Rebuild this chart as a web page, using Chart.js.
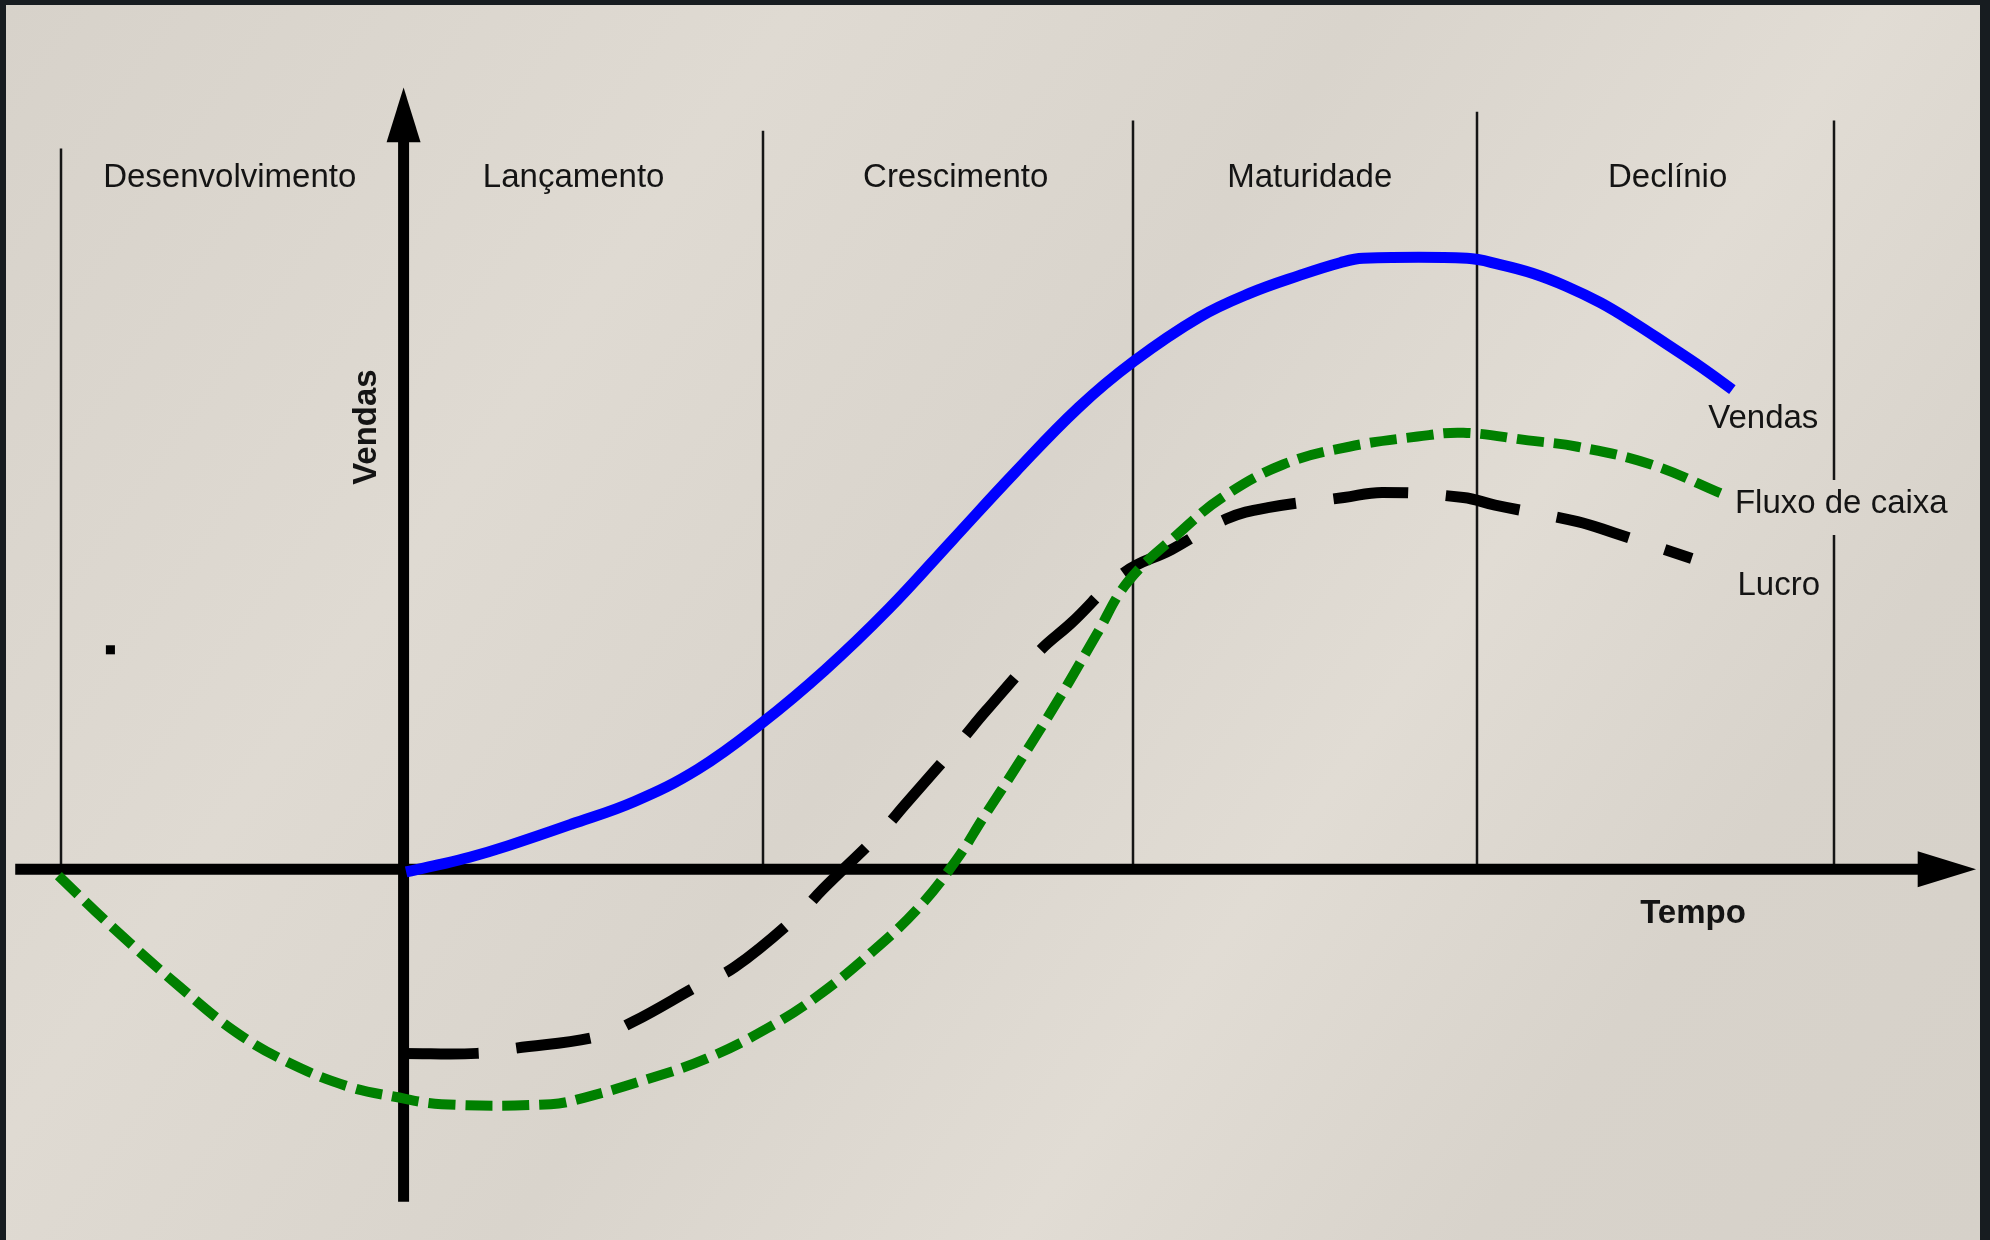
<!DOCTYPE html>
<html>
<head>
<meta charset="utf-8">
<title>Ciclo de vida do produto</title>
<script src="https://cdn.jsdelivr.net/npm/chart.js@4.4.1/dist/chart.umd.min.js"></script>
<style>
  html, body {
    margin: 0;
    padding: 0;
    width: 1990px;
    height: 1240px;
    overflow: hidden;
    background: #171c20;
  }
  #panel {
    position: absolute;
    left: 6px;
    top: 5px;
    width: 1974px;
    height: 1235px;
    background: linear-gradient(125deg, #d7d2ca 0%, #dfdad2 28%, #d9d4cc 48%, #e1dcd4 66%, #d8d3cb 82%, #d6d1c9 100%);
  }
  #wrap {
    position: absolute;
    left: 0;
    top: 0;
    width: 1990px;
    height: 1240px;
  }
</style>
</head>
<body>
<div id="panel"></div>
<div id="wrap"><canvas id="chart" width="1990" height="1240"></canvas></div>
<script>
// units: time runs from the vertical axis (0), value from the horizontal axis (0)
const vendasX = [0.2, 2.7, 5.2, 8.2, 13.2, 18.2, 23.2, 28.2, 33.2, 38.2, 43.2, 48.2, 53.2, 57.5, 62.7, 66.7, 70.6, 73.8, 75.6, 83.8, 86.4, 89.0, 91.6, 94.3, 96.9, 99.5, 102.2, 104.7];
const vendasY = [-0.2, 0.35, 0.95, 1.85, 3.55, 5.35, 7.9, 11.5, 15.7, 20.5, 25.9, 31.3, 36.4, 40.0, 43.5, 45.4, 46.8, 47.8, 48.15, 48.15, 47.65, 46.95, 45.95, 44.65, 43.1, 41.4, 39.6, 37.8];

const fluxoX = [-27.2, -23.0, -17.7, -13.1, -8.9, -4.4, -0.8, 3.0, 11.6, 14.2, 19.0, 23.9, 28.7, 32.6, 36.8, 40.6, 43.6, 45.7, 48.3, 51.8, 54.6, 57.1, 61.1, 64.5, 69.3, 74.5, 79.9, 83.5, 88.6, 92.5, 98.3, 104.1];
const fluxoY = [-0.5, -4.5, -9.2, -12.9, -15.3, -17.1, -17.9, -18.5, -18.5, -18.0, -16.6, -14.9, -12.5, -10.0, -6.6, -3.0, 0.8, 4.1, 8.1, 13.7, 18.5, 22.7, 26.5, 29.3, 31.9, 33.3, 34.1, 34.4, 33.8, 33.3, 31.9, 29.5];

const lucroX = [0, 5.8, 8.8, 15.2, 18.1, 23.5, 26.1, 31.1, 33.0, 37.5, 39.6, 43.8, 45.9, 50.1, 52.6, 56.8, 60.5, 64.8, 68.1, 74.1, 77.1, 83.5, 86.0, 92.5, 95.4, 101.5];
const lucroY = [-14.5, -14.5, -14.1, -13.2, -12.0, -9.0, -7.7, -3.6, -1.6, 2.8, 5.2, 10.0, 12.5, 17.2, 19.4, 23.4, 25.2, 27.6, 28.5, 29.3, 29.7, 29.3, 28.7, 27.4, 26.5, 24.5];

const phases = ["Desenvolvimento", "Lançamento", "Crescimento", "Maturidade", "Declínio"];
const phaseLabelX = [-13.7, 13.4, 43.5, 71.4, 99.6];
const phaseBounds = [-27.0, 28.3, 57.46, 84.6, 112.7];
const phaseTops = [56.8, 58.2, 59.0, 59.7, 59.0];

const seriesNames = ["Vendas", "Fluxo de caixa", "Lucro"];
const seriesLabelX = [102.8, 104.9, 105.1];
const seriesLabelY = [34.8, 28.1, 21.6];

const timeAxis = [-30.6, 119.3, 123.9];   // start, arrow base, arrow tip
const valueAxis = [-26.2, 57.3, 61.6];    // bottom, arrow base, arrow tip
const markX = [-23.1];
const markY = [17.3];

const toPoints = (xs, ys) => xs.map((x, i) => ({ x: x, y: ys[i] }));

const FONT = "'Liberation Sans', Arial, sans-serif";

const cycleDrawing = {
  id: "cycleDrawing",
  beforeDatasetsDraw(chart) {
    const { ctx } = chart;
    const x = chart.scales.x;
    const y = chart.scales.y;
    const y0 = y.getPixelForValue(0);
    const x0 = x.getPixelForValue(0);
    ctx.save();

    // phase separators
    ctx.strokeStyle = "#151515";
    ctx.lineWidth = 2.5;
    phaseBounds.forEach((b, i) => {
      const px = Math.round(x.getPixelForValue(b));
      ctx.beginPath();
      ctx.moveTo(px, y.getPixelForValue(phaseTops[i]));
      ctx.lineTo(px, y0);
      ctx.stroke();
    });

    // axes
    ctx.strokeStyle = "#000";
    ctx.fillStyle = "#000";
    ctx.lineWidth = 11;
    ctx.beginPath();
    ctx.moveTo(x.getPixelForValue(timeAxis[0]), y0);
    ctx.lineTo(x.getPixelForValue(timeAxis[1]) + 2, y0);
    ctx.stroke();
    ctx.beginPath();
    ctx.moveTo(x0, y.getPixelForValue(valueAxis[0]));
    ctx.lineTo(x0, y.getPixelForValue(valueAxis[1]) - 2);
    ctx.stroke();

    // arrow heads
    const xb = x.getPixelForValue(timeAxis[1]);
    const xt = x.getPixelForValue(timeAxis[2]);
    ctx.beginPath();
    ctx.moveTo(xt, y0);
    ctx.lineTo(xb, y0 - 18);
    ctx.lineTo(xb, y0 + 18);
    ctx.closePath();
    ctx.fill();
    const yb = y.getPixelForValue(valueAxis[1]);
    const yt = y.getPixelForValue(valueAxis[2]);
    ctx.beginPath();
    ctx.moveTo(x0, yt);
    ctx.lineTo(x0 - 17, yb);
    ctx.lineTo(x0 + 17, yb);
    ctx.closePath();
    ctx.fill();
    ctx.restore();
  },
  afterDatasetsDraw(chart) {
    const { ctx } = chart;
    const x = chart.scales.x;
    const y = chart.scales.y;
    ctx.save();
    ctx.fillStyle = "#141414";
    ctx.font = "33px " + FONT;
    ctx.textAlign = "center";
    ctx.textBaseline = "alphabetic";
    phases.forEach((p, i) => {
      ctx.fillText(p, x.getPixelForValue(phaseLabelX[i]), y.getPixelForValue(53.8));
    });

    ctx.textAlign = "left";
    seriesNames.forEach((s, i) => {
      const px = x.getPixelForValue(seriesLabelX[i]);
      const py = y.getPixelForValue(seriesLabelY[i]);
      if (s === "Fluxo de caixa") {
        // the label box hides the last separator, as in the original
        const w = ctx.measureText(s).width;
        ctx.clearRect(px - 2, py - 33, w + 4, 55);
      }
      ctx.fillText(s, px, py);
    });

    // axis titles
    ctx.font = "bold 33px " + FONT;
    ctx.textAlign = "center";
    ctx.textBaseline = "middle";
    ctx.fillText("Tempo", x.getPixelForValue(101.6), y.getPixelForValue(-3.5));
    ctx.translate(x.getPixelForValue(-2.9), y.getPixelForValue(34.85));
    ctx.rotate(-Math.PI / 2);
    ctx.fillText("Vendas", 0, 0);
    ctx.restore();
  }
};

new Chart(document.getElementById("chart"), {
  type: "line",
  data: {
    datasets: [
      {
        label: "Vendas",
        data: toPoints(vendasX, vendasY),
        borderColor: "#0000ff",
        borderWidth: 11,
        tension: 0.4,
        pointRadius: 0,
      },
      {
        label: "Fluxo de caixa",
        data: toPoints(fluxoX, fluxoY),
        borderColor: "#008000",
        borderWidth: 10,
        borderDash: [27, 10],
        tension: 0.4,
        pointRadius: 0,
      },
      {
        label: "Lucro",
        data: toPoints(lucroX, lucroY),
        borderColor: "#000000",
        borderWidth: 11,
        borderDash: [75, 38],
        tension: 0.4,
        pointRadius: 0,
      },
      {
        label: "marca",
        data: toPoints(markX, markY),
        showLine: false,
        pointStyle: "rect",
        pointRadius: 6.4,
        pointBackgroundColor: "#000",
        pointBorderWidth: 0,
      },
    ],
  },
  options: {
    responsive: false,
    animation: false,
    devicePixelRatio: 1,
    layout: { padding: 0, autoPadding: false },
    plugins: {
      legend: { display: false },
      tooltip: { enabled: false },
    },
    scales: {
      x: { type: "linear", display: false, min: -31.8, max: 125.0 },
      y: { type: "linear", display: false, min: -29.205, max: 68.5 },
    },
  },
  plugins: [cycleDrawing],
});
</script>
</body>
</html>
